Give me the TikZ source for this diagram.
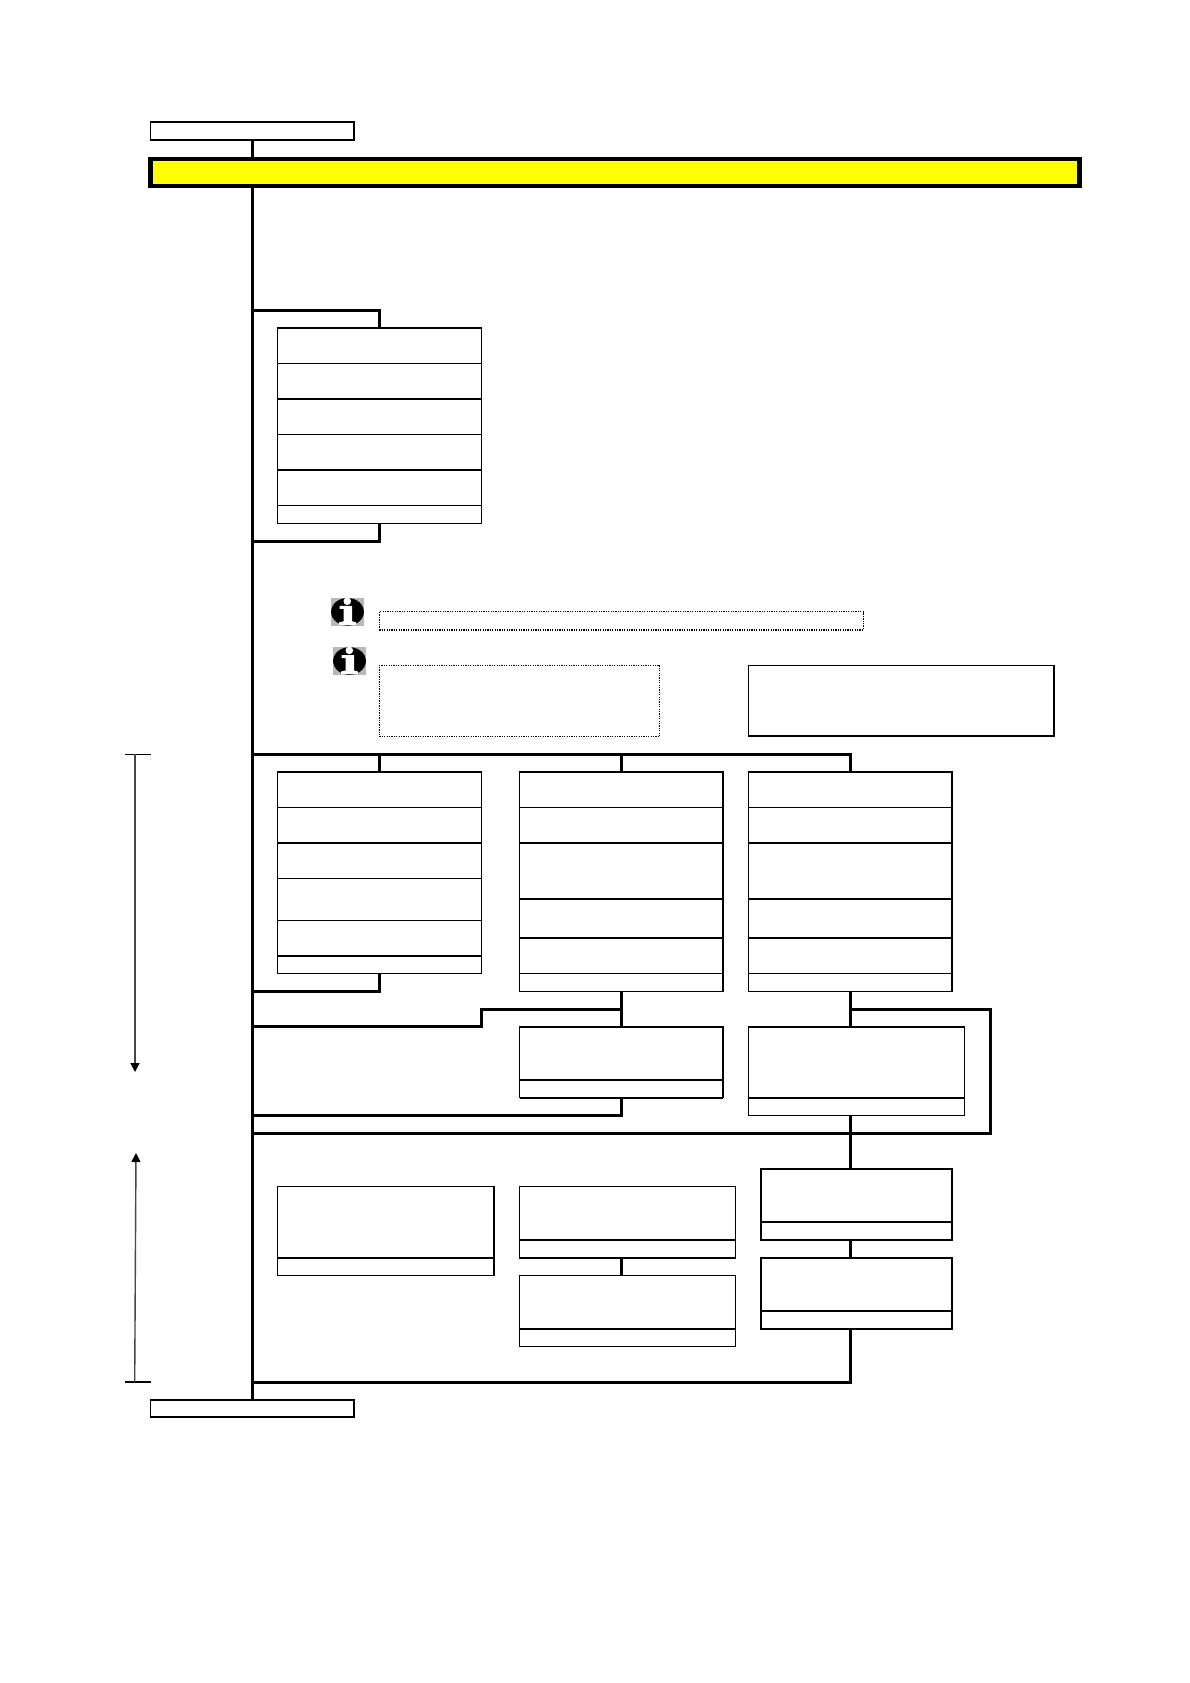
\documentclass[tikz,border=0pt]{standalone}
\usetikzlibrary{arrows.meta}
\definecolor{signal}{RGB}{255,255,0}
\definecolor{icongrey}{RGB}{184,184,184}
\definecolor{dimgrey}{RGB}{70,70,70}
\tikzset{
  cellbox/.style={draw=black,fill=white,line width=1.2pt,inner sep=0pt,outer sep=0pt,rectangle,anchor=north west},
  midbox/.style={cellbox,line width=1.8pt},
  dotbox/.style={cellbox,line width=1.2pt,dash pattern=on 1.3pt off 1.1pt},
  banner/.style={cellbox,fill=signal,line width=4.8pt},
  bus/.style={draw=black,line width=2.9pt,line cap=butt,line join=miter},
  rule/.style={draw=black,line width=1.9pt,line cap=butt},
  dimline/.style={draw=dimgrey,line width=1.4pt},
  tickline/.style={draw=black,line width=1.1pt},
  dimarrow/.style={-{Triangle[length=9pt,width=9pt,color=black,fill=black]}},
}
% name, x1, y1, x2, y2, style
\newcommand{\boxat}[6]{\node[#6,minimum width={(#4-#2)*1pt},minimum height={(#5-#3)*1pt}] (#1) at (#2,#3) {};}
% icon at top-left corner
\newcommand{\infoicon}[2]{%
  \begin{scope}[shift={(#1,#2)}]
    \fill[icongrey] (0,0) rectangle (33,28);
    \fill[black] (16.5,14) ellipse [x radius=16.4pt,y radius=13.8pt];
    \fill[white] (16.3,3.4) circle [radius=3.8pt];
    \fill[white] (8.5,8) -- (21,8) -- (21,23.5) -- (25,24.5) -- (25,27) -- (8,27) -- (8,24.5) -- (12.5,23.5) -- (12.5,11) -- (8.5,11) -- cycle;
  \end{scope}}
\begin{document}
\begin{tikzpicture}[x=1pt,y=-1pt]
\useasboundingbox (0,0) rectangle (1190,1683);
\fill[white] (0,0) rectangle (1190,1683);

% trunk junctions
\coordinate (j1) at (252.5,310.3);
\coordinate (j2) at (252.5,541.2);
\coordinate (j3) at (252.5,754.3);
\coordinate (j4) at (252.5,991.3);
\coordinate (j5) at (252.5,1026.7);
\coordinate (j6) at (252.5,1115.4);
\coordinate (j7) at (252.5,1133.3);
\coordinate (j8) at (252.5,1382.2);
\coordinate (s1) at (481.7,1009.4);
\coordinate (s2) at (621.4,1009.4);
\coordinate (s3) at (481.7,1026.7);
\coordinate (r1) at (850.7,1009.4);
\coordinate (r2) at (990.7,1009.4);
\coordinate (r3) at (990.7,1133.3);
\coordinate (m1) at (850.7,1133.3);

% terminals and banner
\boxat{startbox}{150.5}{121.7}{354}{140}{midbox}
\boxat{endbox}{150.5}{1400}{354}{1417}{midbox}
\boxat{yellow}{150.5}{159}{1079.3}{186}{banner}

% first stack
\boxat{aa1}{277.3}{328}{481.3}{363.3}{cellbox}
\boxat{aa2}{277.3}{363.3}{481.3}{398.7}{cellbox}
\boxat{aa3}{277.3}{398.7}{481.3}{434.3}{cellbox}
\boxat{aa4}{277.3}{434.3}{481.3}{470}{cellbox}
\boxat{aa5}{277.3}{470}{481.3}{505.3}{cellbox}
\boxat{aa6}{277.3}{505.3}{481.3}{523.3}{cellbox}

% notes
\boxat{noteone}{379.3}{611.7}{863.2}{630}{dotbox}
\boxat{notetwo}{379.3}{665.3}{659.7}{736.6}{dotbox}
\boxat{notethree}{748.3}{665.7}{1054}{736.4}{cellbox}

% left stack
\boxat{bb1}{277.3}{771.7}{481.3}{807.3}{cellbox}
\boxat{bb2}{277.3}{807.3}{481.3}{843}{cellbox}
\boxat{bb3}{277.3}{843}{481.3}{878.3}{cellbox}
\boxat{bb4}{277.3}{878.3}{481.3}{920.3}{cellbox}
\boxat{bb5}{277.3}{920.3}{481.3}{956}{cellbox}
\boxat{bb6}{277.3}{956}{481.3}{973.3}{cellbox}

% middle stack
\boxat{cc1}{519.7}{771.7}{723}{807.3}{cellbox}
\boxat{cc2}{519.7}{807.3}{723}{843}{cellbox}
\boxat{cc3}{519.7}{843}{723}{899}{cellbox}
\boxat{cc4}{519.7}{899}{723}{937.7}{cellbox}
\boxat{cc5}{519.7}{937.7}{723}{973.3}{cellbox}
\boxat{cc6}{519.7}{973.3}{723}{991.3}{cellbox}

% right stack
\boxat{dd1}{748.7}{771.7}{952.3}{807.3}{cellbox}
\boxat{dd2}{748.7}{807.3}{952.3}{843}{cellbox}
\boxat{dd3}{748.7}{843}{952.3}{899}{cellbox}
\boxat{dd4}{748.7}{899}{952.3}{937.7}{cellbox}
\boxat{dd5}{748.7}{937.7}{952.3}{973.3}{cellbox}
\boxat{dd6}{748.7}{973.3}{952.3}{991.3}{cellbox}

% second tier
\boxat{ee1}{519.7}{1027}{723}{1079.7}{cellbox}
\boxat{ee2}{519.7}{1079.7}{723}{1097.7}{cellbox}
\boxat{ff1}{748.7}{1027}{964.3}{1097.7}{cellbox}
\boxat{ff2}{748.7}{1097.7}{964.3}{1115.3}{cellbox}

% third tier
\boxat{gg1}{277.3}{1186.3}{494}{1257.8}{cellbox}
\boxat{gg2}{277.3}{1257.8}{494}{1275.3}{cellbox}
\boxat{hh1}{519.3}{1186.3}{735.7}{1240}{cellbox}
\boxat{hh2}{519.3}{1240}{735.7}{1258}{cellbox}
\boxat{ii1}{519.3}{1275.3}{735.7}{1329}{cellbox}
\boxat{ii2}{519.3}{1329}{735.7}{1346.3}{cellbox}
\boxat{kk1}{760.7}{1169.3}{952.3}{1222.3}{midbox}
\boxat{kk2}{760.7}{1222.3}{952.3}{1239.7}{midbox}
\boxat{ll1}{760.7}{1258}{952.3}{1310.7}{midbox}
\boxat{ll2}{760.7}{1310.7}{952.3}{1329}{midbox}

% thin rows inside the framed boxes
\draw[draw=black,line width=1.2pt] (kk1.south west) -- (kk1.south east);

% heavier rules inside the stacks
\draw[rule] (aa1.north west) -- (aa1.north east);
\draw[rule] (aa3.north west) -- (aa3.north east);
\draw[rule] (aa5.north west) -- (aa5.north east);
\draw[rule] (bb1.north west) -- (bb1.north east);
\draw[rule] (bb3.north west) -- (bb3.north east);
\draw[rule] (bb6.north west) -- (bb6.north east);
\draw[rule] (cc1.north west) -- (cc1.north east);
\draw[rule] (cc3.north west) -- (cc3.north east);
\draw[rule] (cc4.north west) -- (cc4.north east);
\draw[rule] (cc5.north west) -- (cc5.north east);
\draw[rule] (cc1.north east) -- (cc6.south east);
\draw[rule] (dd1.north west) -- (dd1.north east);
\draw[rule] (dd3.north west) -- (dd3.north east);
\draw[rule] (dd4.north west) -- (dd4.north east);
\draw[rule] (dd5.north west) -- (dd5.north east);
\draw[rule] (dd1.north east) -- (dd6.south east);
\draw[rule] (ee1.north west) -- (ee1.north east);
\draw[rule] (ee2.north west) -- (ee2.north east);
\draw[rule] (ee2.south west) -- (ee2.south east);
\draw[rule] (ee1.north east) -- (ee2.south east);
\draw[rule] (ff1.north west) -- (ff1.north east);
\draw[rule] (ff2.north west) -- (ff2.north east);
\draw[rule] (gg2.north west) -- (gg2.north east);
\draw[rule] (hh2.north west) -- (hh2.north east);
\draw[rule] (hh2.south west) -- (hh2.south east);
\draw[rule] (ii2.north west) -- (ii2.north east);
\draw[rule] (ll2.north west) -- (ll2.north east);
\draw[rule] (notethree.north east) -- (notethree.south east);
\draw[rule] (notethree.south west) -- (notethree.south east);

% trunk
\draw[bus] (startbox.south) -- (startbox.south |- yellow.north);
\draw[bus] (startbox.south |- yellow.south) -- (endbox.north);

% branches
\draw[bus] (j1) -| (aa1.north);
\draw[bus] (aa6.south) |- (j2);
\draw[bus] (j3) -| (dd1.north);
\draw[bus] (bb1.north |- j3) -- (bb1.north);
\draw[bus] (cc1.north |- j3) -- (cc1.north);
\draw[bus] (bb6.south) |- (j4);
\draw[bus] (j5) -- (s3) -- (s1) -- (s2);
\draw[bus] (cc6.south) -- (ee1.north);
\draw[bus] (ee2.south) |- (j6);
\draw[bus] (r1 |- dd6.south) -- (r1 |- ff1.north);
\draw[bus] (r1) -- (r2) -- (r3) -- (j7);
\draw[bus] (r1 |- ff2.south) -- (r1 |- kk1.north);
\draw[bus] (r1 |- kk2.south) -- (r1 |- ll1.north);
\draw[bus] (r1 |- ll2.south) |- (j8);
\draw[bus] (hh2.south -| s2) -- (ii1.north -| s2);

% dimension arrows
\coordinate (ta) at (125,754.3);
\coordinate (tb) at (151,754.3);
\coordinate (tc) at (135,754.3);
\coordinate (td) at (135,1072);
\coordinate (te) at (125,1382);
\coordinate (tf) at (151,1382);
\coordinate (tg) at (134.7,1382);
\coordinate (th) at (136,1153);
\draw[tickline] (ta) -- (tb);
\draw[dimline,dimarrow] (tc) -- (td);
\draw[tickline] (te) -- (tf);
\draw[dimline,dimarrow] (tg) -- (th);

% info icons
\infoicon{331}{597.8}
\infoicon{333}{647}
\end{tikzpicture}
\end{document}
